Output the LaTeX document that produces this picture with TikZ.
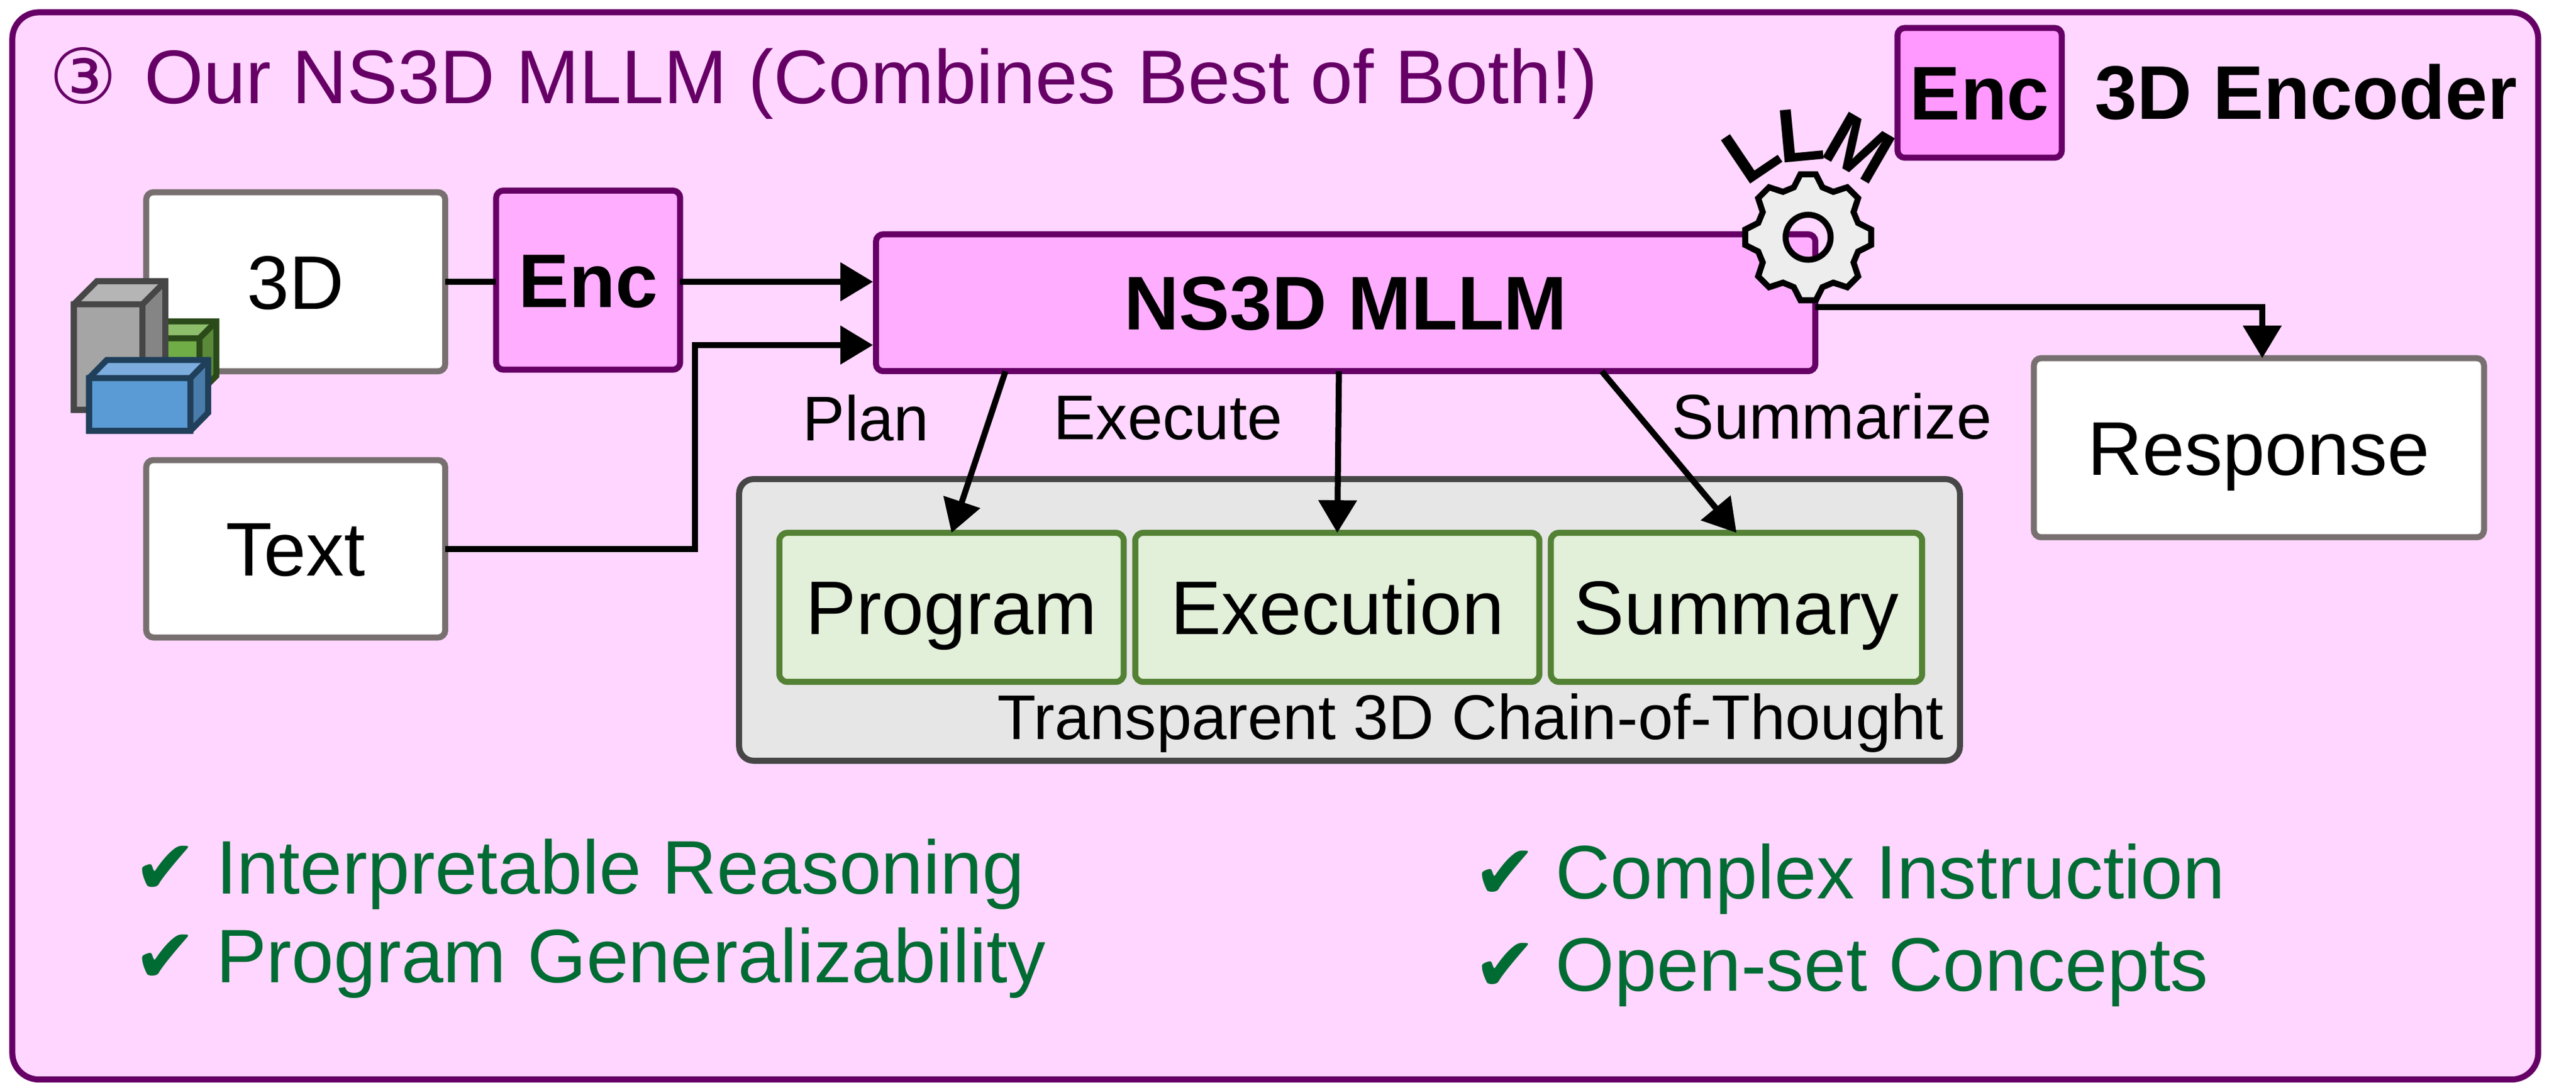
\documentclass[tikz,border=0pt]{standalone}
\usepackage{fontspec}
\setmainfont{Liberation Sans}
\newfontfamily\djv{DejaVu Sans}
\usetikzlibrary{arrows.meta}
\definecolor{pinkbg}{HTML}{FFD6FF}
\definecolor{plum}{HTML}{660066}
\definecolor{pinkbox}{HTML}{FFAEFF}
\definecolor{pinkleg}{HTML}{FF99FF}
\definecolor{greybd}{HTML}{787070}
\definecolor{grnfill}{HTML}{E2EFD9}
\definecolor{grnbd}{HTML}{548235}
\definecolor{panelf}{HTML}{E6E6E6}
\definecolor{paneld}{HTML}{464646}
\definecolor{goodgrn}{HTML}{006B33}
\definecolor{gearf}{HTML}{EDEDED}
\definecolor{gf}{HTML}{70AD47}\definecolor{gt}{HTML}{8DBE6C}\definecolor{gs}{HTML}{5A8A39}\definecolor{gd}{HTML}{2B4A1A}
\definecolor{kf}{HTML}{A5A5A5}\definecolor{kt}{HTML}{B5B5B5}\definecolor{ks}{HTML}{858585}\definecolor{kd}{HTML}{464646}
\definecolor{bf}{HTML}{5B9BD5}\definecolor{bt}{HTML}{7CADDE}\definecolor{bs}{HTML}{497CAA}\definecolor{bd}{HTML}{203F5B}
\def\U{0.6808pt}
\newcommand\bx[7]{\node[#6,minimum width={(#4-#2)*\U},minimum height={(#5-#3)*\U}] (#1) at ({(#2+#4)/2},{(#3+#5)/2}) {#7};}
% x1 y1 x2 y2 dx dy colourprefix
\newcommand\cube[7]{%
  \fill[#7t] (#1,#2) -- ++(#5,-#6) -- ++({#3-#1},0) -- (#3,#2) -- cycle;
  \fill[#7s] (#3,#2) -- ++(#5,-#6) -- ++(0,{#4-#2}) -- (#3,#4) -- cycle;
  \fill[#7f] (#1,#2) rectangle (#3,#4);
  \draw[#7d,cubeline] (#1,#2) rectangle (#3,#4) (#3,#2) -- ++(#5,-#6);
  \draw[#7d,cubeline] (#1,#2) -- ++(#5,-#6) -- ({#3+#5},{#2-#6}) -- ({#3+#5},{#4-#6}) -- (#3,#4) -- (#1,#4) -- cycle;}
\tikzset{
  base/.style={rounded corners=3pt,outer sep=0pt,inner sep=0pt,align=center,font=\fontsize{31.5}{36}\selectfont,text height=22.5pt,text depth=0pt},
  whitebox/.style={base,draw=greybd,fill=white,line width=2.5pt},
  encbox/.style={base,draw=plum,fill=pinkbox,line width=2.5pt,font=\fontsize{31.5}{36}\selectfont\bfseries},
  legbox/.style={encbox,fill=pinkleg},
  stepgrn/.style={base,draw=grnbd,fill=grnfill,line width=2.5pt,rounded corners=3.3pt},
  panelbox/.style={base,draw=paneld,fill=panelf,line width=2.5pt,rounded corners=6pt},
  flow/.style={line width=2.5pt,line join=miter,-{Triangle[length=13.5pt,width=15.5pt]}},
  plainflow/.style={line width=2.5pt},
  lab/.style={font=\fontsize{26.2}{30}\selectfont,inner sep=0pt},
  good/.style={font=\fontsize{31.4}{36}\selectfont,text=goodgrn,anchor=base west,inner sep=0pt},
  cubeline/.style={line width=2.5pt,line join=miter},
  llm/.style={font=\fontsize{31.5}{36}\selectfont\bfseries,inner sep=0pt,text height=22.5pt,text depth=0pt},
}
\begin{document}
\begin{tikzpicture}[x=\U,y=-\U]
\useasboundingbox (0,0) rectangle (1568,659);
\bx{frame}{7.5}{7.5}{1545}{657}{base,draw=plum,fill=pinkbg,line width=2.5pt,rounded corners=11pt}{}
\node[anchor=base west,inner sep=0pt,text=plum,font=\fontsize{31.5}{36}\selectfont] (title) at (29.5,63) {{\djv ③}\hspace{0.363em}Our NS3D MLLM (Combines Best of Both!)};
\bx{dthree}{89}{117}{271}{226}{whitebox}{3D}
\bx{txt}{89}{280}{271}{388}{whitebox}{Text}
\bx{enc}{302}{116}{414}{225}{encbox}{Enc}
\bx{ns}{533.2}{142.6}{1105}{225.9}{encbox}{NS3D MLLM}
\bx{resp}{1238}{218}{1512}{327}{whitebox}{Response}
\bx{panel}{449.9}{291.6}{1193}{463}{panelbox}{}
\bx{prog}{474.4}{324.3}{684}{415}{stepgrn}{Program}
\bx{exec}{691}{324.3}{937}{415}{stepgrn}{Execution}
\bx{summ}{944}{324.3}{1170}{415}{stepgrn}{Summary}
\node[lab,anchor=east] (chain) at (1183.5,440) {Transparent 3D Chain-of-Thought};
\bx{leg}{1155}{17}{1255}{96}{legbox}{Enc}
\node[anchor=west,inner sep=0pt,font=\fontsize{31.5}{36}\selectfont\bfseries] (legtxt) at (1275,56) {3D Encoder};
% cubes
\cube{90}{205.9}{121.4}{239}{10.3}{10.3}{g}
\cube{44.9}{185.2}{86.7}{249.5}{14}{14}{k}
\cube{54.2}{230.1}{115.9}{262.2}{10.8}{11}{b}
% connectors
\coordinate (nsinb) at (531.4,171.5);
\coordinate (nsin) at (531.4,210);
\coordinate (bendt) at (423,334);
\draw[plainflow] (dthree.east |- nsinb) -- (enc.west |- nsinb);
\draw[flow] (enc.east |- nsinb) -- (nsinb);
\draw[flow] (txt.east |- bendt) -- (bendt) -- (bendt |- nsin) -- (nsin);
\coordinate (pl) at (612,226);
\coordinate (ex) at (815,226);
\coordinate (sm) at (975,226);
\draw[flow] (pl) -- (prog.north);
\draw[flow] (ex) -- (exec.north);
\draw[flow] (sm) -- (summ.north);
\coordinate (rb) at (1105,187);
\coordinate (rt) at (1377,218);
\draw[flow] (rb) -- (rb -| rt) -- (rt);
\node[lab] (plan) at (527,254.5) {Plan};
\node[lab] (execute) at (711,254.5) {Execute};
\node[lab] (summarize) at (1115,253.5) {Summarize};
% gear
\begin{scope}[shift={(1100.6,144.4)}]
\path[fill=gearf,even odd rule] (-16:31.6) \foreach \a in {0,45,...,315}{ -- (\a-16:31.6) -- (\a-7:38.6) -- (\a+7:38.6) -- (\a+16:31.6)} -- cycle (0,0) circle (13.7);
\draw[line width=2.5pt,line join=miter] (-16:31.6) \foreach \a in {0,45,...,315}{ -- (\a-16:31.6) -- (\a-7:38.6) -- (\a+7:38.6) -- (\a+16:31.6)} -- cycle (0,0) circle (13.7);
\end{scope}
\node[llm,rotate=34] (la) at (1065.4,92.2) {L};
\node[llm,rotate=5.4] (lb) at (1095.9,81.5) {L};
\node[llm,rotate=-30] (lc) at (1131.9,89.6) {M};
% benefits
\node[good] (ga) at (81,544) {{\djv ✔}\hspace{0.25em}Interpretable Reasoning};
\node[good] (gb) at (81,598) {{\djv ✔}\hspace{0.25em}Program Generalizability};
\node[good] (gc) at (896.5,547) {{\djv ✔}\hspace{0.25em}Complex Instruction};
\node[good] (gd) at (896.5,603) {{\djv ✔}\hspace{0.25em}Open-set Concepts};
\end{tikzpicture}
\end{document}
